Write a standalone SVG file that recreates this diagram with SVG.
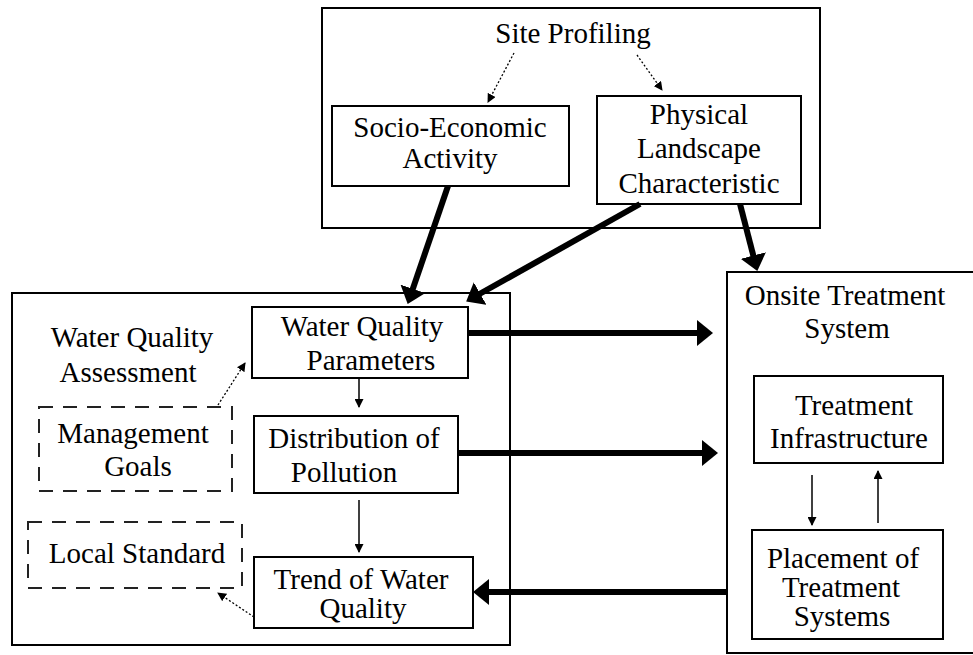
<svg xmlns="http://www.w3.org/2000/svg" width="973" height="655" viewBox="0 0 973 655">
<style>
.box{fill:#fff;stroke:#000;stroke-width:2}
.dash{fill:none;stroke:#222;stroke-width:2;stroke-dasharray:14,10}
text{font-family:"Liberation Serif","Times New Roman","DejaVu Serif",serif;font-size:29px;fill:#000;text-anchor:middle}
.thick{stroke:#000;stroke-width:6;fill:none}
.thin{stroke:#000;stroke-width:1.5;fill:none}
.dot{stroke:#000;stroke-width:1.3;fill:none;stroke-dasharray:2,2}
</style>
<defs>
<marker id="big" markerUnits="userSpaceOnUse" markerWidth="16" markerHeight="26" refX="10" refY="13" orient="auto"><path d="M0,0 L16,13 L0,26 z" fill="#000"/></marker>
<marker id="sm" markerUnits="userSpaceOnUse" markerWidth="9" markerHeight="9" refX="8" refY="4.5" orient="auto"><path d="M0,0 L9,4.5 L0,9 z" fill="#000"/></marker>
</defs>
<rect width="973" height="655" fill="#fff"/>
<g font-family="Liberation Serif, serif">
<g id="site-profiling">
<rect class="box" x="322" y="8" width="498" height="220"/>
<text x="573" y="43">Site Profiling</text>
</g>
<g id="socio-economic">
<rect class="box" x="332" y="106" width="237" height="80"/>
<text x="450" y="137">Socio-Economic</text>
<text x="450" y="168">Activity</text>
</g>
<g id="physical-landscape">
<rect class="box" x="597" y="96" width="204" height="108"/>
<text x="699" y="124">Physical</text>
<text x="699" y="158">Landscape</text>
<text x="699" y="193">Characteristic</text>
</g>

<g id="water-quality-assessment">
<rect class="box" x="12" y="293" width="498" height="352"/>
<text x="132" y="347">Water Quality</text>
<text x="128" y="382">Assessment</text>
</g>
<g id="water-quality-parameters">
<rect class="box" x="252" y="307" width="216" height="71"/>
<text x="362" y="336">Water Quality</text>
<text x="371" y="370">Parameters</text>
</g>
<g id="management-goals">
<rect class="dash" x="39" y="407" width="193" height="84"/>
<text x="133" y="443">Management</text>
<text x="138" y="476">Goals</text>
</g>
<g id="distribution-of-pollution">
<rect class="box" x="254" y="416" width="204" height="77"/>
<text x="354" y="448">Distribution of</text>
<text x="344" y="482">Pollution</text>
</g>
<g id="local-standard">
<rect class="dash" x="28" y="522" width="214" height="66"/>
<text x="137" y="563">Local Standard</text>
</g>
<g id="trend-of-water-quality">
<rect class="box" x="254" y="557" width="219" height="71"/>
<text x="361" y="589">Trend of Water</text>
<text x="363" y="618">Quality</text>
</g>

<g id="onsite-treatment-system">
<rect class="box" x="727" y="272" width="262" height="381"/>
<text x="845" y="305">Onsite Treatment</text>
<text x="847" y="338">System</text>
</g>
<g id="treatment-infrastructure">
<rect class="box" x="754" y="376" width="189" height="87"/>
<text x="854" y="415">Treatment</text>
<text x="849" y="448">Infrastructure</text>
</g>
<g id="placement-of-treatment-systems">
<rect class="box" x="752" y="530" width="191" height="109"/>
<text x="843" y="568">Placement of</text>
<text x="841" y="597">Treatment</text>
<text x="842" y="626">Systems</text>
</g>
</g>
<g id="connectors">
<line class="dot" x1="514" y1="53" x2="488" y2="102" marker-end="url(#sm)"/>
<line class="dot" x1="637" y1="55" x2="662" y2="90" marker-end="url(#sm)"/>
<line class="thick" x1="448" y1="186" x2="409.6" y2="298.3" marker-end="url(#big)"/>
<line class="thick" x1="640" y1="204" x2="471.4" y2="298.5" marker-end="url(#big)"/>
<line class="thick" x1="740" y1="204" x2="755.8" y2="265.2" marker-end="url(#big)"/>
<line class="thick" x1="468" y1="333" x2="707" y2="333" marker-end="url(#big)"/>
<line class="thick" x1="458" y1="453" x2="712" y2="453" marker-end="url(#big)"/>
<line class="thick" x1="727" y1="592" x2="479" y2="592" marker-end="url(#big)"/>
<line class="thin" x1="359" y1="379" x2="359" y2="407" marker-end="url(#sm)"/>
<line class="thin" x1="359" y1="500" x2="359" y2="552" marker-end="url(#sm)"/>
<line class="dot" x1="218" y1="405" x2="245" y2="363" marker-end="url(#sm)"/>
<line class="dot" x1="254" y1="617" x2="218" y2="593" marker-end="url(#sm)"/>
<line class="thin" x1="812" y1="475" x2="812" y2="525" marker-end="url(#sm)"/>
<line class="thin" x1="878" y1="523" x2="878" y2="471" marker-end="url(#sm)"/>
</g>
</svg>
